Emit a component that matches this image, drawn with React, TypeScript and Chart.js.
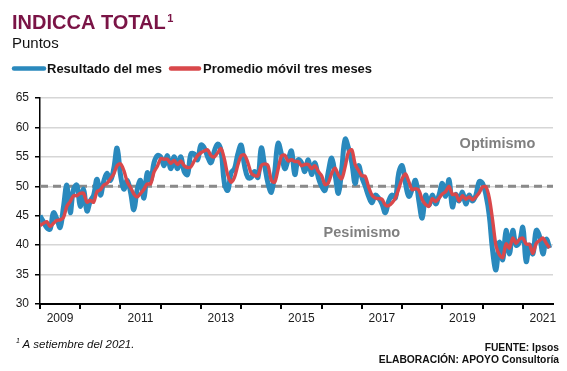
import React, { useEffect, useRef } from "react";
import { Chart, registerables } from "chart.js";

Chart.register(...registerables);

// ---- Data (monthly, Jan 2009 – Sep 2021) ----
const startYear = 2009;
const yearTicks = [2009, 2010, 2011, 2012, 2013, 2014, 2015, 2016, 2017, 2018, 2019, 2020, 2021];
const labeledYears = [2009, 2011, 2013, 2015, 2017, 2019, 2021];
const yTicks = [30, 35, 40, 45, 50, 55, 60, 65];
const neutralLevel = 50;

const resultadoMes = [
  45.0, 44.0, 43.0, 42.7, 45.5, 44.5, 43.0, 46.5, 50.2, 45.5, 49.5, 50.2,
  46.6, 49.5, 45.8, 47.5, 48.5, 51.2, 48.5, 50.8, 52.2, 51.0, 53.0, 56.5,
  52.0, 49.5, 51.0, 49.0, 46.0, 49.5, 51.0, 48.0, 52.3, 51.0, 54.0, 55.2,
  55.0, 53.5, 55.2, 53.0, 55.0, 53.0, 55.0, 52.5, 52.0, 55.5, 55.5, 54.5,
  57.0, 56.5, 55.0, 54.0, 56.0, 57.2, 56.0, 50.5, 49.3, 52.3, 53.0, 55.5,
  57.0, 53.5, 51.5, 51.5, 52.5, 51.5, 56.5, 53.5, 50.5, 49.0, 52.5, 57.3,
  55.5, 53.0, 54.5, 56.0, 52.0, 54.5, 54.0, 52.5, 54.5, 52.0, 54.0, 51.5,
  50.0, 49.3, 52.5, 54.8, 52.0, 48.8, 53.0, 58.0, 56.5, 54.0, 50.5, 53.5,
  51.5, 50.0, 48.3, 47.2, 48.5, 48.0, 47.0, 45.5, 47.5, 48.5, 48.0, 52.3,
  53.5, 50.5, 48.3, 49.5, 51.0, 47.5, 44.6, 48.5, 46.8, 48.5, 47.0, 48.5,
  50.5, 48.3, 51.1, 46.5, 48.6, 47.5, 49.0, 47.0, 48.5, 47.5, 48.5, 50.8,
  50.5, 48.5, 45.0, 39.0, 35.8, 40.5, 37.5, 42.5, 38.5, 42.5, 40.0, 40.5,
  43.0, 37.2, 40.0, 38.5, 42.5, 41.5, 38.5, 41.0, 39.5,
];

const promedioMovil = [
  43.3, 43.7, 44.0, 43.2, 43.7, 44.2, 44.3, 44.7, 46.6, 47.4, 48.4, 48.4,
  48.8, 48.8, 47.3, 47.6, 47.3, 49.1, 49.4, 50.2, 50.5, 51.3, 52.1, 53.5,
  53.8, 52.7, 50.8, 49.8, 48.7, 48.2, 48.8, 49.5, 50.4, 50.4, 52.4, 53.4,
  54.7, 54.6, 54.6, 53.9, 54.4, 53.7, 54.3, 53.5, 53.2, 53.3, 54.3, 55.2,
  55.7, 56.0, 56.2, 55.2, 55.0, 55.7, 56.4, 54.6, 51.9, 50.7, 51.5, 53.6,
  55.2, 55.3, 54.0, 52.2, 51.8, 51.8, 53.5, 53.8, 53.5, 51.0, 50.7, 52.9,
  55.1, 55.3, 54.3, 54.5, 54.2, 54.2, 53.5, 53.7, 53.7, 53.0, 53.5, 52.5,
  51.8, 50.3, 50.6, 52.2, 53.1, 51.9, 51.3, 53.3, 55.8, 56.2, 53.7, 52.7,
  51.8, 51.7, 49.9, 48.5, 48.0, 47.9, 47.8, 46.8, 46.7, 47.2, 48.0, 49.6,
  51.3, 52.1, 50.8, 49.4, 49.6, 49.3, 47.7, 46.9, 46.6, 47.9, 47.4, 48.0,
  48.7, 49.1, 50.0, 48.6, 48.7, 47.5, 48.4, 47.8, 48.2, 47.7, 48.2, 48.9,
  49.9, 49.9, 48.0, 44.2, 39.9, 38.4, 37.9, 40.2, 39.5, 41.2, 40.3, 41.0,
  41.2, 40.2, 40.1, 38.6, 40.3, 40.8, 41.2, 40.3, 39.5,
];

const BLUE = "#2a89bd";
const RED = "#d9484b";
const TITLE_COLOR = "#7a1446";
const FONT = '"Liberation Sans", Arial, Helvetica, sans-serif';

const toPoints = (arr: number[]) =>
  arr.map((v, i) => ({ x: startYear + i / 12, y: v }));

const decorPlugin = {
  id: "decor",
  beforeDatasetsDraw(chart: any) {
    const { ctx, chartArea, scales } = chart;
    const py = scales.y.getPixelForValue(neutralLevel);
    ctx.save();
    ctx.strokeStyle = "#8a8a8a";
    ctx.lineWidth = 3;
    ctx.setLineDash([8, 5]);
    ctx.beginPath();
    ctx.moveTo(chartArea.left, py);
    ctx.lineTo(chartArea.right, py);
    ctx.stroke();
    ctx.restore();
  },
  afterDatasetsDraw(chart: any) {
    const { ctx, scales } = chart;
    ctx.save();
    ctx.fillStyle = "#808080";
    ctx.font = `bold 14.5px ${FONT}`;
    ctx.textAlign = "center";
    ctx.textBaseline = "middle";
    ctx.fillText("Optimismo", scales.x.getPixelForValue(2020.37), scales.y.getPixelForValue(57.2));
    ctx.fillText("Pesimismo", scales.x.getPixelForValue(2017.0), scales.y.getPixelForValue(42.1));
    ctx.restore();
  },
  afterDraw(chart: any) {
    const { ctx } = chart;
    ctx.save();
    ctx.textAlign = "left";
    ctx.textBaseline = "alphabetic";
    // Title
    ctx.fillStyle = TITLE_COLOR;
    ctx.font = `bold 20px ${FONT}`;
    const t = "INDICCA TOTAL";
    ctx.fillText(t, 12, 29);
    const tw = ctx.measureText(t).width;
    ctx.font = `bold 11px ${FONT}`;
    ctx.fillText("1", 12 + tw + 1.5, 22);
    // Subtitle
    ctx.fillStyle = "#111";
    ctx.font = `15px ${FONT}`;
    ctx.fillText("Puntos", 12, 48);
    // Legend
    ctx.lineCap = "round";
    ctx.lineWidth = 4.5;
    ctx.strokeStyle = BLUE;
    ctx.beginPath();
    ctx.moveTo(14, 68.5);
    ctx.lineTo(44, 68.5);
    ctx.stroke();
    ctx.strokeStyle = RED;
    ctx.beginPath();
    ctx.moveTo(171, 68.5);
    ctx.lineTo(199, 68.5);
    ctx.stroke();
    ctx.fillStyle = "#111";
    ctx.font = `bold 13px ${FONT}`;
    ctx.fillText("Resultado del mes", 47, 73);
    ctx.fillText("Promedio móvil tres meses", 203, 73);
    // Footnote
    ctx.font = `italic 7px ${FONT}`;
    ctx.fillText("1", 16, 343);
    ctx.font = `italic 11.5px ${FONT}`;
    ctx.fillText("A setiembre del 2021.", 22.5, 347.5);
    // Source
    ctx.textAlign = "right";
    ctx.font = `bold 10.3px ${FONT}`;
    ctx.fillText("FUENTE: Ipsos", 559, 351);
    ctx.fillText("ELABORACIÓN: APOYO Consultoría", 559, 363.3);
    ctx.restore();
  },
};

export default function App() {
  const ref = useRef<HTMLCanvasElement | null>(null);

  useEffect(() => {
    if (!ref.current) return;
    const chart = new Chart(ref.current, {
      type: "line",
      data: {
        datasets: [
          {
            label: "Resultado del mes",
            data: toPoints(resultadoMes),
            borderColor: BLUE,
            borderWidth: 5,
            tension: 0.4,
            pointRadius: 0,
            fill: false,
            order: 2,
          },
          {
            label: "Promedio móvil tres meses",
            data: toPoints(promedioMovil),
            borderColor: RED,
            borderWidth: 3.4,
            tension: 0.3,
            pointRadius: 0,
            fill: false,
            order: 1,
          },
        ],
      },
      options: {
        animation: false,
        responsive: false,
        layout: { padding: { left: 0, right: 14, top: 98, bottom: 0 } },
        plugins: {
          legend: { display: false },
          tooltip: { enabled: false },
          title: { display: false },
        },
        scales: {
          x: {
            type: "linear",
            min: startYear,
            max: startYear + 153 / 12,
            afterBuildTicks: (s: any) => {
              s.ticks = yearTicks.map((v) => ({ value: v }));
            },
            afterFit: (s: any) => {
              s.height = 67;
            },
            ticks: {
              autoSkip: false,
              maxRotation: 0,
              minRotation: 0,
              padding: 2,
              labelOffset: 20,
              color: "#1a1a1a",
              font: { family: FONT, size: 12 },
              callback: (v: any) => (labeledYears.includes(Number(v)) ? String(v) : ""),
            },
            grid: {
              drawOnChartArea: false,
              drawTicks: true,
              tickLength: 5,
              tickColor: "#000",
              tickWidth: 2,
              lineWidth: 2,
            },
            border: { display: true, color: "#000", width: 2 },
          },
          y: {
            min: 30,
            max: 65,
            afterBuildTicks: (s: any) => {
              s.ticks = yTicks.map((v) => ({ value: v }));
            },
            afterFit: (s: any) => {
              s.width = 40;
            },
            ticks: {
              padding: 6,
              color: "#1a1a1a",
              font: { family: FONT, size: 12 },
            },
            grid: {
              color: "#d6d6d6",
              lineWidth: 1.5,
              drawTicks: true,
              tickLength: 5,
              tickColor: "#000",
              tickWidth: 1.5,
            },
            border: { display: true, color: "#000", width: 1.5 },
          },
        },
      },
      plugins: [decorPlugin],
    } as any);
    return () => chart.destroy();
  }, []);

  return (
    <div style={{ position: "absolute", left: 0, top: 0, width: 567, height: 371, background: "#fff" }}>
      <canvas ref={ref} width={567} height={371} style={{ display: "block", width: 567, height: 371 }} />
    </div>
  );
}
